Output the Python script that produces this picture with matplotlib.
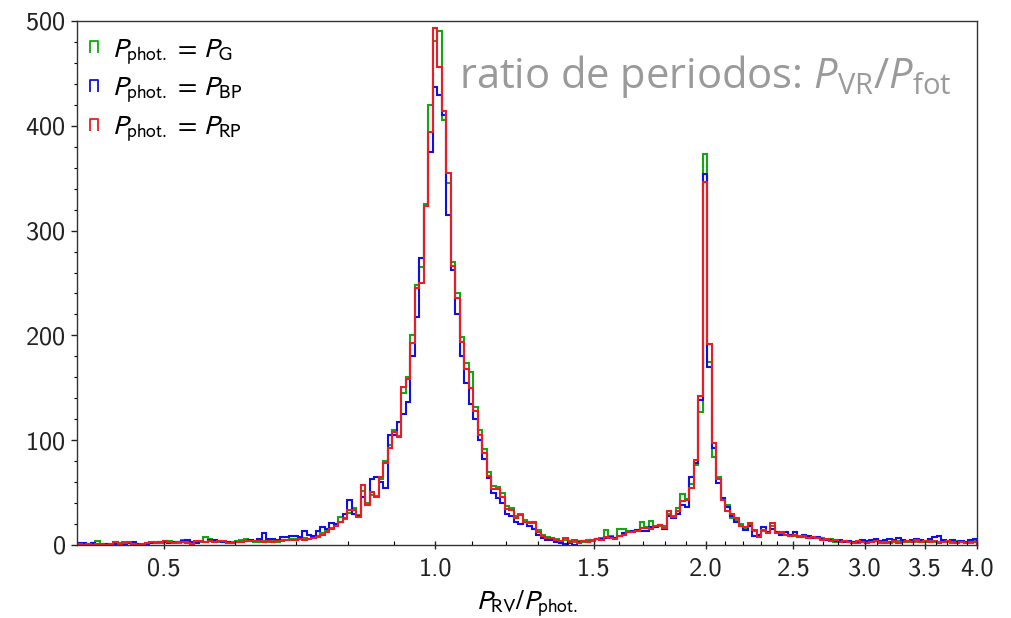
import numpy as np
import matplotlib
matplotlib.use("Agg")
import matplotlib.pyplot as plt
from matplotlib.lines import Line2D
from matplotlib.path import Path
from matplotlib.ticker import FixedLocator, FixedFormatter, MultipleLocator

plt.rcParams['font.family'] = ['cmss10', 'DejaVu Sans']
plt.rcParams['mathtext.fontset'] = 'stixsans'
plt.rcParams['mathtext.rm'] = 'Open Sans'
plt.rcParams['mathtext.it'] = 'Open Sans:italic'
plt.rcParams['mathtext.bf'] = 'Open Sans:bold'
plt.rcParams['axes.formatter.use_mathtext'] = True

# histogram counts, 200 log-spaced bins between 0.4 and 4.0
counts_g = [0, 1, 0, 2, 4, 1, 1, 0, 3, 2,
            3, 2, 1, 1, 0, 2, 2, 3, 2, 3,
            4, 3, 2, 5, 3, 2, 3, 3, 8, 6,
            4, 3, 3, 2, 3, 4, 5, 6, 4, 3,
            3, 4, 3, 4, 3, 5, 5, 6, 6, 7,
            7, 6, 8, 9, 11, 13, 16, 19, 27, 25,
            31, 35, 29, 52, 40, 48, 47, 63, 80, 95,
            110, 104, 145, 160, 200, 248, 265, 325, 420, 481,
            490, 406, 345, 270, 240, 198, 174, 165, 132, 110,
            92, 70, 56, 55, 50, 37, 35, 28, 30, 24,
            22, 21, 14, 10, 8, 6, 6, 4, 5, 4,
            3, 4, 3, 5, 4, 6, 7, 14, 9, 7,
            15, 15, 13, 12, 14, 22, 17, 23, 17, 18,
            18, 30, 28, 35, 49, 44, 58, 76, 127, 373,
            175, 84, 65, 44, 38, 26, 24, 20, 16, 19,
            13, 10, 13, 12, 18, 12, 11, 10, 10, 9,
            9, 8, 8, 7, 8, 7, 5, 6, 3, 4,
            4, 3, 3, 2, 4, 3, 3, 5, 2, 3,
            2, 3, 4, 3, 3, 4, 3, 4, 3, 4,
            3, 3, 4, 3, 2, 4, 3, 3, 2, 4]

counts_bp = [2, 2, 1, 2, 0, 1, 1, 0, 1, 0,
             1, 2, 3, 1, 0, 1, 2, 2, 3, 3,
             2, 3, 3, 4, 5, 3, 2, 4, 3, 5,
             5, 4, 3, 3, 2, 3, 3, 4, 5, 4,
             6, 11, 6, 6, 5, 8, 8, 9, 9, 8,
             13, 10, 9, 13, 17, 15, 21, 20, 22, 30,
             43, 30, 28, 46, 38, 63, 65, 60, 54, 105,
             105, 117, 125, 136, 180, 218, 274, 323, 375, 437,
             429, 410, 315, 262, 220, 180, 155, 135, 120, 100,
             82, 64, 50, 45, 40, 30, 28, 22, 20, 22,
             18, 15, 10, 7, 5, 5, 3, 2, 1, 2,
             0, 3, 4, 3, 5, 6, 6, 7, 8, 7,
             9, 11, 12, 13, 14, 13, 13, 17, 17, 19,
             15, 28, 26, 30, 38, 36, 65, 78, 138, 354,
             170, 93, 59, 45, 36, 28, 22, 18, 14, 18,
             9, 10, 17, 12, 15, 12, 10, 12, 10, 12,
             8, 10, 9, 7, 8, 6, 5, 5, 4, 5,
             3, 4, 3, 3, 5, 4, 5, 6, 4, 5,
             6, 5, 7, 5, 4, 5, 6, 5, 4, 6,
             8, 9, 5, 4, 5, 3, 4, 3, 5, 6]

counts_rp = [1, 0, 1, 0, 1, 1, 0, 1, 3, 1,
             2, 3, 1, 0, 1, 2, 3, 2, 3, 4,
             3, 2, 3, 3, 2, 1, 4, 4, 3, 4,
             3, 4, 4, 2, 2, 3, 3, 4, 4, 4,
             4, 3, 4, 3, 4, 4, 5, 5, 5, 6,
             5, 6, 7, 8, 10, 12, 15, 18, 22, 26,
             33, 33, 27, 57, 38, 51, 46, 65, 78, 93,
             108, 103, 151, 158, 193, 245, 250, 323, 394, 493,
             456, 414, 355, 266, 236, 194, 168, 150, 128, 105,
             88, 66, 53, 53, 46, 34, 33, 26, 29, 22,
             21, 22, 12, 9, 7, 7, 5, 4, 7, 3,
             5, 2, 4, 3, 5, 6, 5, 8, 7, 6,
             9, 10, 12, 12, 13, 16, 16, 15, 18, 19,
             16, 32, 27, 32, 42, 43, 54, 81, 142, 346,
             192, 97, 63, 43, 32, 30, 26, 18, 17, 21,
             14, 8, 14, 11, 21, 11, 12, 10, 9, 10,
             8, 9, 7, 8, 7, 5, 6, 4, 5, 3,
             4, 3, 2, 4, 3, 2, 3, 4, 3, 2,
             3, 4, 2, 3, 4, 3, 5, 3, 4, 3,
             4, 2, 3, 4, 3, 2, 3, 2, 3, 3]

series_labels = [r'$P_\mathrm{phot.}\,=\,P_\mathrm{G}$',
                 r'$P_\mathrm{phot.}\,=\,P_\mathrm{BP}$',
                 r'$P_\mathrm{phot.}\,=\,P_\mathrm{RP}$']
series_colors = ['#12a812', '#1010e6', '#ec1c24']
major_ticks = [0.5, 1.0, 1.5, 2.0, 2.5, 3.0, 3.5, 4.0]

edges = np.logspace(np.log10(0.4), np.log10(4.0), len(counts_rp) + 1)

fig = plt.figure(figsize=(10.11, 6.18), dpi=100)
ax = fig.add_axes([77 / 1011, 1 - 545 / 618, 900 / 1011, 524 / 618])

for vals, col in zip([counts_g, counts_bp, counts_rp], series_colors):
    ax.stairs(vals, edges, color=col, linewidth=1.5, baseline=0)

ax.set_xscale('log')
ax.set_xlim(0.4, 4.0)
ax.set_ylim(0, 500)
ax.xaxis.set_major_locator(FixedLocator(major_ticks))
ax.xaxis.set_major_formatter(FixedFormatter([f'{t:.1f}' for t in major_ticks]))
minor = [m / 10 for m in range(6, 40) if m % 5 != 0]
ax.xaxis.set_minor_locator(FixedLocator(minor))
ax.xaxis.set_minor_formatter(FixedFormatter([''] * len(minor)))
ax.yaxis.set_major_locator(MultipleLocator(100))
ax.yaxis.set_minor_locator(MultipleLocator(20))

for s in ax.spines.values():
    s.set_color('#333333')
    s.set_linewidth(1.0)
ax.tick_params(axis='x', which='major', direction='inout', length=6, width=1,
               labelsize=19, pad=6, colors='#222222')
ax.tick_params(axis='x', which='minor', direction='in', length=3, width=0.8)
ax.tick_params(axis='y', which='major', direction='out', length=4, width=1,
               labelsize=19, pad=4, colors='#222222')
ax.tick_params(axis='y', which='minor', direction='out', length=2, width=0.8)

ax.set_xlabel(r'$P_\mathrm{RV}/P_\mathrm{phot.}$', fontsize=20, labelpad=6)

bracket = Path([(-0.35, -0.5), (-0.35, 0.5), (0.35, 0.5), (0.35, -0.5)],
               [Path.MOVETO, Path.LINETO, Path.LINETO, Path.LINETO])
handles = [Line2D([], [], linestyle='none', marker=bracket, markersize=9,
                  markerfacecolor='none', markeredgecolor=c, markeredgewidth=1.3)
           for c in series_colors]
ax.legend(handles, series_labels, loc='upper left', frameon=False,
          bbox_to_anchor=(0.0, 0.985),
          prop={'size': 20, 'math_fontfamily': 'stixsans'},
          handlelength=0.6, handletextpad=0.35, labelspacing=0.32,
          borderaxespad=0.0, borderpad=0.3)

ax.text(0.972, 0.895, r'ratio de periodos: $P_\mathrm{VR}/P_\mathrm{fot}$',
        transform=ax.transAxes, ha='right', va='center', fontsize=30,
        color='#9a9a9a', family='Open Sans', math_fontfamily='custom')

fig.savefig('out.png', dpi=100)
